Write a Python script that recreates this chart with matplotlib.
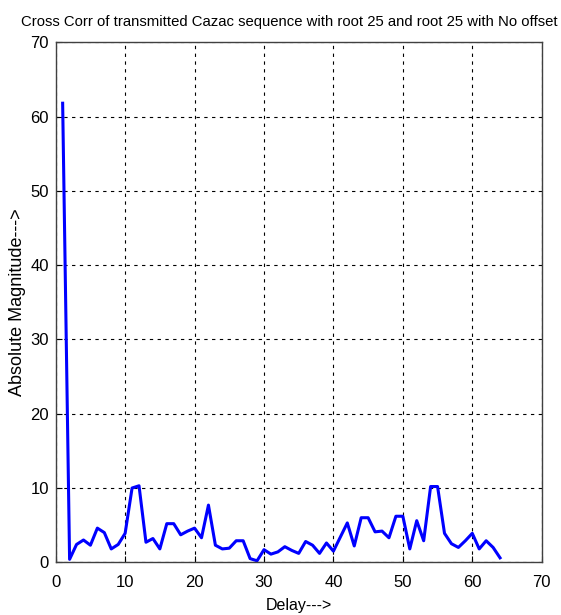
import matplotlib

matplotlib.use("Agg")

import matplotlib.pyplot as plt
import numpy as np

# cross correlation magnitude, delays 1..64
delay = np.arange(1, 65)
magnitude = [
    61.8, 0.4, 2.4, 3.0, 2.3, 4.6, 4.0, 1.8, 2.4, 3.9,
    10.0, 10.3, 2.7, 3.2, 1.8, 5.2, 5.2, 3.7, 4.2, 4.6,
    3.3, 7.7, 2.3, 1.8, 1.9, 2.9, 2.9, 0.5, 0.2, 1.7,
    1.1, 1.4, 2.1, 1.6, 1.2, 2.8, 2.3, 1.2, 2.6, 1.5,
    3.4, 5.3, 2.2, 6.0, 6.0, 4.1, 4.2, 3.3, 6.2, 6.2,
    1.8, 5.6, 2.9, 10.2, 10.2, 3.9, 2.5, 2.0, 2.9, 3.9,
    1.8, 2.9, 2.0, 0.6,
]

TITLE = "Cross Corr of transmitted Cazac sequence with root 25 and root 25 with No offset"
XLABEL = "Delay--->"
YLABEL = "Absolute Magnitude--->"
XTICKS = np.arange(0, 71, 10)
YTICKS = np.arange(0, 71, 10)

FONT = ["Liberation Sans", "DejaVu Sans"]

figure = plt.figure(figsize=(5.61, 6.15), dpi=100)
axis = figure.add_axes([0.0993, 0.0857, 0.8663, 0.8455])

axis.plot(delay, magnitude, color="#0000ff", linewidth=2.2)

axis.set_xlim(0, 70)
axis.set_ylim(0, 70)
axis.set_xticks(XTICKS)
axis.set_yticks(YTICKS)
axis.set_xticklabels([str(t) for t in XTICKS], family=FONT, fontsize=12)
axis.set_yticklabels([str(t) for t in YTICKS], family=FONT, fontsize=12)
axis.tick_params(axis="x", direction="in", length=4, width=0.8, colors="black",
                 top=False, pad=9)
axis.tick_params(axis="y", direction="in", length=4, width=0.8, colors="black",
                 right=False, pad=5)
axis.grid(True, color="black", linestyle=(0, (3, 4)), linewidth=0.8)
for spine in axis.spines.values():
    spine.set_linewidth(1.0)
    spine.set_color("#404040")

figure.text(289.5 / 561, 1 - 29 / 615, TITLE, family=FONT, fontsize=10.7,
            ha="center", va="bottom")
axis.set_xlabel(XLABEL, family=FONT, fontsize=11.5, labelpad=6)
axis.set_ylabel(YLABEL, family=FONT, fontsize=13, labelpad=3)

figure.savefig("out.png", dpi=100)
plt.close(figure)
